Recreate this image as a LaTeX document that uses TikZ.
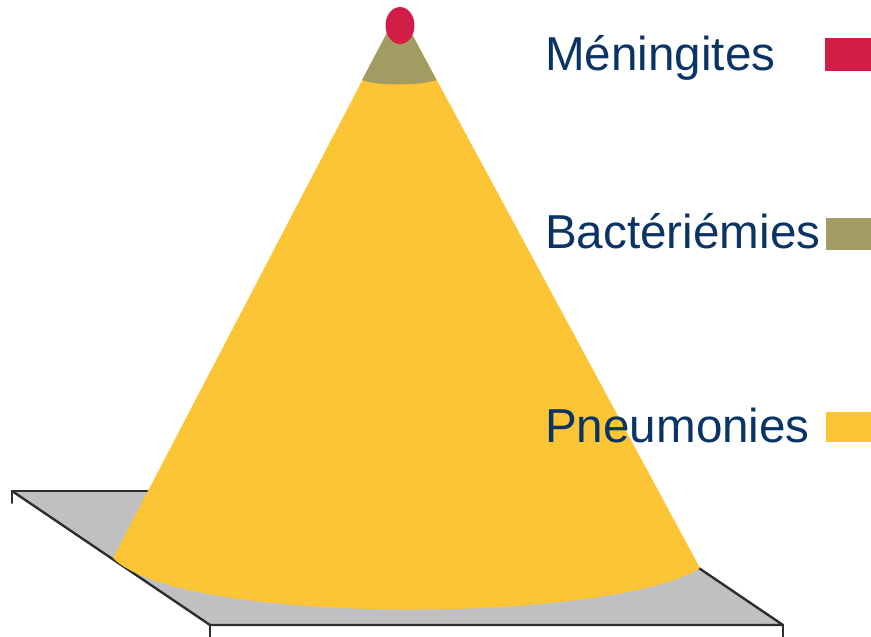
\documentclass[tikz,border=0pt]{standalone}
\usepackage{fontspec}
\setmainfont{Liberation Sans}
\definecolor{plategray}{HTML}{C0C0C2}
\definecolor{edgedark}{HTML}{2E2E2E}
\definecolor{coneyellow}{HTML}{FBC535}
\definecolor{coneolive}{HTML}{A39C62}
\definecolor{topred}{HTML}{D21E46}
\definecolor{navy}{HTML}{0A3366}
\tikzset{
  plateedge/.style={draw=edgedark, line width=2.4pt, line cap=round, line join=round},
  legendtext/.style={anchor=base west, inner sep=0pt, text=navy, font=\fontsize{47.6}{56}\selectfont},
  legendbox/.style={anchor=north west, inner sep=0pt, minimum width=46pt, draw=none},
}
\begin{document}
\begin{tikzpicture}[x=1pt,y=-1pt]
\useasboundingbox (0,0) rectangle (871,637);
% plate
\coordinate (ptl) at (12,491);
\coordinate (ptr) at (585,491);
\coordinate (pbr) at (783,625);
\coordinate (pbl) at (210,625);
\fill[plategray] (ptl) -- (ptr) -- (pbr) -- (pbl) -- cycle;
\draw[plateedge] (ptl) -- (ptr);
\draw[plateedge] (ptl) -- (pbl) -- (pbr) -- (ptr);
\draw[plateedge, line width=2pt] (ptl) -- (12,503);
\draw[plateedge, line width=2pt] (pbl) -- (210,640);
\draw[plateedge, line width=2pt] (pbr) -- (783,640);
% cone
\coordinate (apex) at (399,10);
\coordinate (bl) at (113,558);
\coordinate (br) at (700,568);
\fill[coneyellow] (bl) -- (apex) -- (br) .. controls (612,624) and (180,626) .. (bl) -- cycle;
\coordinate (ol) at (362,80);
\coordinate (or) at (436.5,80);
\fill[coneolive] (ol) -- (apex) -- (or) .. controls (420,86) and (378,86) .. (ol) -- cycle;
\fill[topred] (400,25.5) ellipse [x radius=14.5, y radius=18.5];
% legend
\node[legendtext] (t1) at (545,70) {Méningites};
\node[legendtext] (t2) at (545,248) {Bactériémies};
\node[legendtext] (t3) at (545,442) {Pneumonies};
\node[legendbox, fill=topred, minimum height=33pt] (b1) at (825,38) {};
\node[legendbox, fill=coneolive, minimum height=32pt] (b2) at (826,218) {};
\node[legendbox, fill=coneyellow, minimum height=30pt] (b3) at (826,412) {};
\end{tikzpicture}
\end{document}
